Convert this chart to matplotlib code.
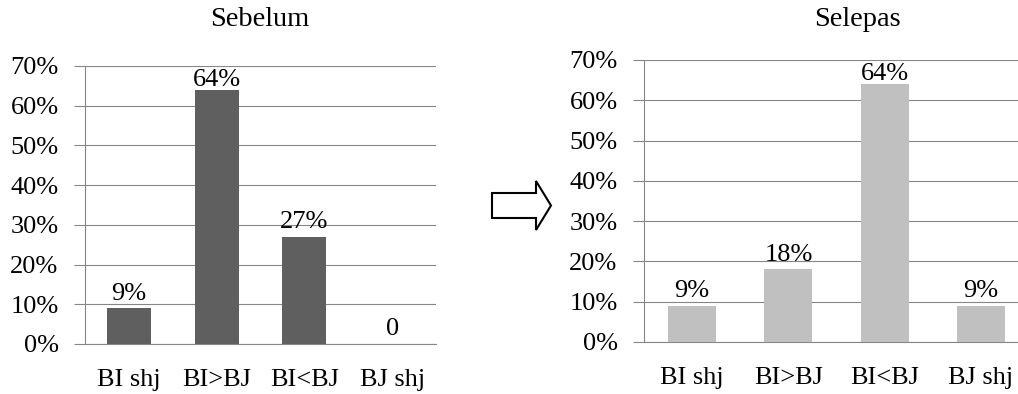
import matplotlib.pyplot as plt
from matplotlib.patches import Polygon

plt.rcParams['font.family'] = ['Liberation Serif', 'DejaVu Serif']

kategori = ['BI shj', 'BI>BJ', 'BI<BJ', 'BJ shj']
sebelum = [0.09, 0.64, 0.27, 0.0]
selepas = [0.09, 0.18, 0.64, 0.09]
label_sebelum = ['9%', '64%', '27%', '0']
label_selepas = ['9%', '18%', '64%', '9%']
yticks = [0, 0.1, 0.2, 0.3, 0.4, 0.5, 0.6, 0.7]
ylabels = ['0%', '10%', '20%', '30%', '40%', '50%', '60%', '70%']

W, H = 1018, 394
fig = plt.figure(figsize=(W / 100, H / 100), dpi=100)

grid_kolor = '#868686'
fs = 19


def wykres(rect, wartosci, etykiety, kolor, tytul, tytul_xy):
    ax = fig.add_axes(rect)
    x = range(len(kategori))
    ax.bar(x, wartosci, width=0.5, color=kolor, zorder=3)
    ax.set_xlim(-0.5, len(kategori) - 0.5)
    ax.set_ylim(0, 0.7)
    ax.set_yticks(yticks)
    ax.set_yticklabels(ylabels, fontsize=fs)
    ax.set_xticks(list(x))
    ax.set_xticklabels(kategori, fontsize=fs)
    ax.tick_params(axis='x', length=0, pad=18)
    ax.tick_params(axis='y', length=8, width=0.8, color=grid_kolor, pad=11)
    ax.yaxis.grid(True, color=grid_kolor, linewidth=0.8, zorder=0)
    for s in ['top', 'right']:
        ax.spines[s].set_visible(False)
    for s in ['left', 'bottom']:
        ax.spines[s].set_color(grid_kolor)
        ax.spines[s].set_linewidth(0.8)
    for xi, v, t in zip(x, wartosci, etykiety):
        ax.text(xi, min(v + 0.022, 0.65), t, ha='center', va='baseline',
                fontsize=fs, zorder=4)
    fig.text(tytul_xy[0] / W, 1 - tytul_xy[1] / H, tytul, ha='center',
             va='baseline', fontsize=20.5)
    return ax


wykres([85 / W, 1 - 344 / H, (436 - 85) / W, (344 - 66) / H],
       sebelum, label_sebelum, '#5f5f5f', 'Sebelum', (260, 26))
wykres([644 / W, 1 - 342 / H, (1029 - 644) / W, (342 - 60) / H],
       selepas, label_selepas, '#c0c0c0', 'Selepas', (857, 26))

# strzalka miedzy wykresami
pts = [(492, 193), (536, 193), (536, 181), (551, 205.5), (536, 230), (536, 218), (492, 218)]
strzalka = Polygon([(px / 100, (H - py) / 100) for px, py in pts], closed=True,
                   facecolor='white', edgecolor='black', linewidth=1.5,
                   transform=fig.dpi_scale_trans)
fig.patches.append(strzalka)

fig.savefig('out.png', dpi=100)
